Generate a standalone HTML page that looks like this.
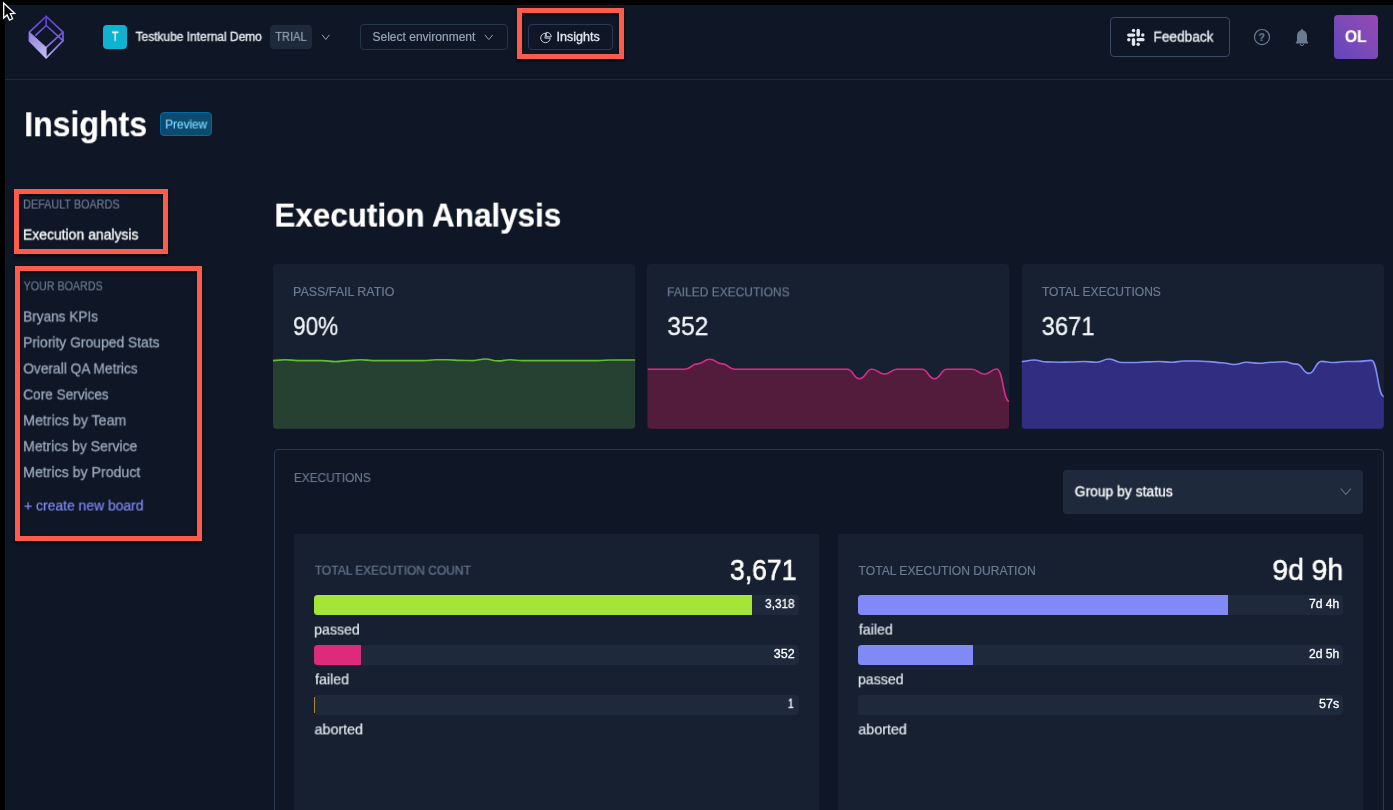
<!DOCTYPE html>
<html lang="en"><head><meta charset="utf-8"><title>Insights - Execution Analysis</title>
<style>
html,body{margin:0;padding:0;background:#000;}
body{width:1393px;height:810px;overflow:hidden;font-family:"Liberation Sans",sans-serif;}
#app{position:absolute;left:0;top:0;width:1393px;height:810px;background:#000;overflow:hidden;}
.b{position:absolute;box-sizing:border-box;}
.t{position:absolute;display:block;white-space:nowrap;line-height:1;transform-origin:0 50%;will-change:transform;-webkit-text-stroke:0.2px;}
.red{position:absolute;box-sizing:border-box;border:5.3px solid #fd5b4b;box-shadow:0 1.5px 2.5px rgba(0,0,0,.75), inset 0 1.5px 2.5px rgba(0,0,0,.6);}
svg{position:absolute;left:0;top:0;overflow:visible;}
</style></head>
<body>
<div id="app">
<div class="b" style="left:5.00px;top:4.70px;width:1388.00px;height:806.00px;background:#0f1625;border-radius:0px;"></div>
<div class="b" style="left:5.00px;top:78.60px;width:1388.00px;height:1.00px;background:#1e293b;border-radius:0px;"></div>
<div class="b" style="left:103.00px;top:25.00px;width:24.20px;height:24.00px;background:#0db3d1;border-radius:4px;"></div>
<div class="b" style="left:269.70px;top:25.00px;width:42.20px;height:24.00px;background:#1e293b;border-radius:4px;"></div>
<div class="b" style="left:360.20px;top:24.00px;width:147.50px;height:26.20px;background:transparent;border-radius:4px;border:1px solid #273549;"></div>
<div class="b" style="left:527.60px;top:24.00px;width:85.40px;height:26.20px;background:transparent;border-radius:4px;border:1px solid #2b3a50;"></div>
<div class="b" style="left:1110.00px;top:17.00px;width:120.00px;height:40.00px;background:transparent;border-radius:4px;border:1px solid #3b4a60;"></div>
<div class="b" style="left:1333.70px;top:14.90px;width:44.30px;height:44.30px;background:linear-gradient(45deg,#5f47be 0%,#7d4ab8 50%,#9648b4 100%);border-radius:4px;"></div>
<div class="b" style="left:160.00px;top:112.00px;width:52.10px;height:24.00px;background:#0c4a6e;border-radius:4px;border:1px solid #0369a1;"></div>
<div class="b" style="left:272.90px;top:264.00px;width:362.50px;height:164.70px;background:#172030;border-radius:4px;"></div>
<div class="b" style="left:647.40px;top:264.00px;width:361.90px;height:164.70px;background:#172030;border-radius:4px;"></div>
<div class="b" style="left:1021.60px;top:264.00px;width:362.30px;height:164.70px;background:#172030;border-radius:4px;"></div>
<div class="b" style="left:273.60px;top:448.90px;width:1110.20px;height:400.00px;background:transparent;border-radius:4px;border:1px solid #2a3a50;"></div>
<div class="b" style="left:1063.00px;top:469.70px;width:300.00px;height:44.00px;background:#1e293b;border-radius:4px;"></div>
<div class="b" style="left:294.20px;top:533.60px;width:524.40px;height:300.00px;background:#172030;border-radius:1px;"></div>
<div class="b" style="left:838.40px;top:533.60px;width:524.80px;height:300.00px;background:#172030;border-radius:1px;"></div>
<div class="b" style="left:314.00px;top:595.10px;width:484.60px;height:19.80px;background:#1e293b;border-radius:3.5px;"></div>
<div class="b" style="left:858.10px;top:595.10px;width:484.70px;height:19.80px;background:#1e293b;border-radius:3.5px;"></div>
<div class="b" style="left:314.00px;top:645.00px;width:484.60px;height:19.80px;background:#1e293b;border-radius:3.5px;"></div>
<div class="b" style="left:858.10px;top:645.00px;width:484.70px;height:19.80px;background:#1e293b;border-radius:3.5px;"></div>
<div class="b" style="left:314.00px;top:694.90px;width:484.60px;height:19.80px;background:#1e293b;border-radius:3.5px;"></div>
<div class="b" style="left:858.10px;top:694.90px;width:484.70px;height:19.80px;background:#1e293b;border-radius:3.5px;"></div>
<div class="b" style="left:314.00px;top:595.10px;width:438.10px;height:19.80px;background:#a3e635;border-radius:0px;border-radius:3.5px 0 0 3.5px;"></div>
<div class="b" style="left:314.00px;top:645.00px;width:46.70px;height:19.80px;background:#de2a7b;border-radius:0px;border-radius:3.5px 0 0 3.5px;"></div>
<div class="b" style="left:314.00px;top:696.50px;width:1.10px;height:16.60px;background:#a8892c;border-radius:0px;"></div>
<div class="b" style="left:858.10px;top:595.10px;width:370.30px;height:19.80px;background:#8189f6;border-radius:0px;border-radius:3.5px 0 0 3.5px;"></div>
<div class="b" style="left:858.10px;top:645.00px;width:114.60px;height:19.80px;background:#8189f6;border-radius:0px;border-radius:3.5px 0 0 3.5px;"></div>
<svg width="1393" height="810" viewBox="0 0 1393 810">
<defs><linearGradient id="lg" gradientUnits="userSpaceOnUse" x1="46" y1="16" x2="46" y2="58"><stop offset="0" stop-color="#5a3dd6"/><stop offset="0.55" stop-color="#7b62dc"/><stop offset="1" stop-color="#b9aeea"/></linearGradient><linearGradient id="lf" gradientUnits="userSpaceOnUse" x1="30" y1="32" x2="44" y2="58"><stop offset="0" stop-color="#8f7fdb"/><stop offset="1" stop-color="#c5bdec"/></linearGradient></defs>
<clipPath id="c1"><rect x="272.90" y="264.00" width="362.50" height="164.70" rx="4" ry="4"/></clipPath>
<g clip-path="url(#c1)"><path d="M272.90,360.60C279.15,360.60 279.15,359.70 285.40,359.70C291.65,359.70 291.65,360.60 297.90,360.60C304.15,360.60 304.15,360.60 310.40,360.60C316.65,360.60 316.65,360.60 322.90,360.60C329.15,360.60 329.15,361.60 335.40,361.60C341.65,361.60 341.65,360.60 347.90,360.60C354.15,360.60 354.15,359.70 360.40,359.70C366.65,359.70 366.65,360.60 372.90,360.60C379.15,360.60 379.15,360.60 385.40,360.60C391.65,360.60 391.65,360.60 397.90,360.60C404.15,360.60 404.15,360.60 410.40,360.60C416.65,360.60 416.65,360.60 422.90,360.60C429.15,360.60 429.15,359.80 435.40,359.80C441.65,359.80 441.65,359.80 447.90,359.80C454.15,359.80 454.15,360.40 460.40,360.40C466.65,360.40 466.65,360.60 472.90,360.60C479.15,360.60 479.15,359.00 485.40,359.00C491.65,359.00 491.65,360.90 497.90,360.90C504.15,360.90 504.15,359.80 510.40,359.80C516.65,359.80 516.65,360.60 522.90,360.60C529.15,360.60 529.15,360.60 535.40,360.60C541.65,360.60 541.65,360.60 547.90,360.60C554.15,360.60 554.15,360.60 560.40,360.60C566.65,360.60 566.65,360.60 572.90,360.60C579.15,360.60 579.15,360.60 585.40,360.60C591.65,360.60 591.65,360.60 597.90,360.60C604.15,360.60 604.15,360.00 610.40,360.00C616.65,360.00 616.65,360.00 622.90,360.00C629.15,360.00 629.15,360.00 635.40,360.00L635.40,430.70L272.90,430.70Z" fill="#264031"/><path d="M272.90,360.60C279.15,360.60 279.15,359.70 285.40,359.70C291.65,359.70 291.65,360.60 297.90,360.60C304.15,360.60 304.15,360.60 310.40,360.60C316.65,360.60 316.65,360.60 322.90,360.60C329.15,360.60 329.15,361.60 335.40,361.60C341.65,361.60 341.65,360.60 347.90,360.60C354.15,360.60 354.15,359.70 360.40,359.70C366.65,359.70 366.65,360.60 372.90,360.60C379.15,360.60 379.15,360.60 385.40,360.60C391.65,360.60 391.65,360.60 397.90,360.60C404.15,360.60 404.15,360.60 410.40,360.60C416.65,360.60 416.65,360.60 422.90,360.60C429.15,360.60 429.15,359.80 435.40,359.80C441.65,359.80 441.65,359.80 447.90,359.80C454.15,359.80 454.15,360.40 460.40,360.40C466.65,360.40 466.65,360.60 472.90,360.60C479.15,360.60 479.15,359.00 485.40,359.00C491.65,359.00 491.65,360.90 497.90,360.90C504.15,360.90 504.15,359.80 510.40,359.80C516.65,359.80 516.65,360.60 522.90,360.60C529.15,360.60 529.15,360.60 535.40,360.60C541.65,360.60 541.65,360.60 547.90,360.60C554.15,360.60 554.15,360.60 560.40,360.60C566.65,360.60 566.65,360.60 572.90,360.60C579.15,360.60 579.15,360.60 585.40,360.60C591.65,360.60 591.65,360.60 597.90,360.60C604.15,360.60 604.15,360.00 610.40,360.00C616.65,360.00 616.65,360.00 622.90,360.00C629.15,360.00 629.15,360.00 635.40,360.00" fill="none" stroke="#62ba35" stroke-width="1.6"/></g>
<clipPath id="c2"><rect x="647.40" y="264.00" width="361.90" height="164.70" rx="4" ry="4"/></clipPath>
<g clip-path="url(#c2)"><path d="M647.40,369.20C653.64,369.20 653.64,369.20 659.88,369.20C666.12,369.20 666.12,369.20 672.36,369.20C678.60,369.20 678.60,369.20 684.84,369.20C691.08,369.20 691.08,363.90 697.32,363.90C703.56,363.90 703.56,359.30 709.80,359.30C716.04,359.30 716.04,363.90 722.28,363.90C728.52,363.90 728.52,369.20 734.76,369.20C740.99,369.20 740.99,369.20 747.23,369.20C753.47,369.20 753.47,369.20 759.71,369.20C765.95,369.20 765.95,369.20 772.19,369.20C778.43,369.20 778.43,369.20 784.67,369.20C790.91,369.20 790.91,369.20 797.15,369.20C803.39,369.20 803.39,369.20 809.63,369.20C815.87,369.20 815.87,369.20 822.11,369.20C828.35,369.20 828.35,369.20 834.59,369.20C840.83,369.20 840.83,369.20 847.07,369.20C853.31,369.20 853.31,378.70 859.55,378.70C865.79,378.70 865.79,369.20 872.03,369.20C878.27,369.20 878.27,374.00 884.51,374.00C890.75,374.00 890.75,369.20 896.99,369.20C903.23,369.20 903.23,369.20 909.47,369.20C915.71,369.20 915.71,369.20 921.94,369.20C928.18,369.20 928.18,378.70 934.42,378.70C940.66,378.70 940.66,369.20 946.90,369.20C953.14,369.20 953.14,369.20 959.38,369.20C965.62,369.20 965.62,369.20 971.86,369.20C978.10,369.20 978.10,374.20 984.34,374.20C990.58,374.20 990.58,369.00 996.82,369.00C1003.06,369.00 1003.06,401.50 1009.30,401.50L1009.30,430.70L647.40,430.70Z" fill="#531b3c"/><path d="M647.40,369.20C653.64,369.20 653.64,369.20 659.88,369.20C666.12,369.20 666.12,369.20 672.36,369.20C678.60,369.20 678.60,369.20 684.84,369.20C691.08,369.20 691.08,363.90 697.32,363.90C703.56,363.90 703.56,359.30 709.80,359.30C716.04,359.30 716.04,363.90 722.28,363.90C728.52,363.90 728.52,369.20 734.76,369.20C740.99,369.20 740.99,369.20 747.23,369.20C753.47,369.20 753.47,369.20 759.71,369.20C765.95,369.20 765.95,369.20 772.19,369.20C778.43,369.20 778.43,369.20 784.67,369.20C790.91,369.20 790.91,369.20 797.15,369.20C803.39,369.20 803.39,369.20 809.63,369.20C815.87,369.20 815.87,369.20 822.11,369.20C828.35,369.20 828.35,369.20 834.59,369.20C840.83,369.20 840.83,369.20 847.07,369.20C853.31,369.20 853.31,378.70 859.55,378.70C865.79,378.70 865.79,369.20 872.03,369.20C878.27,369.20 878.27,374.00 884.51,374.00C890.75,374.00 890.75,369.20 896.99,369.20C903.23,369.20 903.23,369.20 909.47,369.20C915.71,369.20 915.71,369.20 921.94,369.20C928.18,369.20 928.18,378.70 934.42,378.70C940.66,378.70 940.66,369.20 946.90,369.20C953.14,369.20 953.14,369.20 959.38,369.20C965.62,369.20 965.62,369.20 971.86,369.20C978.10,369.20 978.10,374.20 984.34,374.20C990.58,374.20 990.58,369.00 996.82,369.00C1003.06,369.00 1003.06,401.50 1009.30,401.50" fill="none" stroke="#d92c8a" stroke-width="1.6"/></g>
<clipPath id="c3"><rect x="1021.60" y="264.00" width="362.30" height="164.70" rx="4" ry="4"/></clipPath>
<g clip-path="url(#c3)"><path d="M1021.60,361.60C1027.85,361.60 1027.85,360.00 1034.09,360.00C1040.34,360.00 1040.34,361.90 1046.59,361.90C1052.83,361.90 1052.83,362.20 1059.08,362.20C1065.33,362.20 1065.33,362.05 1071.57,362.05C1077.82,362.05 1077.82,361.50 1084.07,361.50C1090.31,361.50 1090.31,362.20 1096.56,362.20C1102.81,362.20 1102.81,359.05 1109.05,359.05C1115.30,359.05 1115.30,362.50 1121.54,362.50C1127.79,362.50 1127.79,362.50 1134.04,362.50C1140.28,362.50 1140.28,361.90 1146.53,361.90C1152.78,361.90 1152.78,361.50 1159.02,361.50C1165.27,361.50 1165.27,362.20 1171.52,362.20C1177.76,362.20 1177.76,361.00 1184.01,361.00C1190.26,361.00 1190.26,361.00 1196.50,361.00C1202.75,361.00 1202.75,361.60 1209.00,361.60C1215.24,361.60 1215.24,362.70 1221.49,362.70C1227.74,362.70 1227.74,364.50 1233.98,364.50C1240.23,364.50 1240.23,362.30 1246.48,362.30C1252.72,362.30 1252.72,363.30 1258.97,363.30C1265.22,363.30 1265.22,362.20 1271.46,362.20C1277.71,362.20 1277.71,361.80 1283.96,361.80C1290.20,361.80 1290.20,364.10 1296.45,364.10C1302.69,364.10 1302.69,373.40 1308.94,373.40C1315.19,373.40 1315.19,361.40 1321.43,361.40C1327.68,361.40 1327.68,362.50 1333.93,362.50C1340.17,362.50 1340.17,361.50 1346.42,361.50C1352.67,361.50 1352.67,361.40 1358.91,361.40C1365.16,361.40 1365.16,360.40 1371.41,360.40C1377.65,360.40 1377.65,396.50 1383.90,396.50L1383.90,430.70L1021.60,430.70Z" fill="#312e81"/><path d="M1021.60,361.60C1027.85,361.60 1027.85,360.00 1034.09,360.00C1040.34,360.00 1040.34,361.90 1046.59,361.90C1052.83,361.90 1052.83,362.20 1059.08,362.20C1065.33,362.20 1065.33,362.05 1071.57,362.05C1077.82,362.05 1077.82,361.50 1084.07,361.50C1090.31,361.50 1090.31,362.20 1096.56,362.20C1102.81,362.20 1102.81,359.05 1109.05,359.05C1115.30,359.05 1115.30,362.50 1121.54,362.50C1127.79,362.50 1127.79,362.50 1134.04,362.50C1140.28,362.50 1140.28,361.90 1146.53,361.90C1152.78,361.90 1152.78,361.50 1159.02,361.50C1165.27,361.50 1165.27,362.20 1171.52,362.20C1177.76,362.20 1177.76,361.00 1184.01,361.00C1190.26,361.00 1190.26,361.00 1196.50,361.00C1202.75,361.00 1202.75,361.60 1209.00,361.60C1215.24,361.60 1215.24,362.70 1221.49,362.70C1227.74,362.70 1227.74,364.50 1233.98,364.50C1240.23,364.50 1240.23,362.30 1246.48,362.30C1252.72,362.30 1252.72,363.30 1258.97,363.30C1265.22,363.30 1265.22,362.20 1271.46,362.20C1277.71,362.20 1277.71,361.80 1283.96,361.80C1290.20,361.80 1290.20,364.10 1296.45,364.10C1302.69,364.10 1302.69,373.40 1308.94,373.40C1315.19,373.40 1315.19,361.40 1321.43,361.40C1327.68,361.40 1327.68,362.50 1333.93,362.50C1340.17,362.50 1340.17,361.50 1346.42,361.50C1352.67,361.50 1352.67,361.40 1358.91,361.40C1365.16,361.40 1365.16,360.40 1371.41,360.40C1377.65,360.40 1377.65,396.50 1383.90,396.50" fill="none" stroke="#818cf8" stroke-width="1.6"/></g>
<g fill="none" stroke="url(#lg)" stroke-width="1.65" stroke-linejoin="round" stroke-linecap="round"><path d="M46.2,16.3L63,32.1L63,40.6L46.2,57.8L29.4,41L29.4,32.1Z"/><path d="M46.2,16.3L46.2,25.5"/><path d="M46.2,25.5L63,40.6"/><path d="M46.2,25.5L35.8,35.2"/><path d="M63,32.1L46.2,47.4"/></g><path d="M29.4,32.1L46.2,47.4L46.2,57.8L29.4,41Z" fill="url(#lf)" stroke="url(#lf)" stroke-width="0.8" stroke-linejoin="round"/>
<path d="M322.40,35.10L325.80,39.50L329.20,35.10" fill="none" stroke="#94a3b8" stroke-width="1.00" stroke-linecap="round" stroke-linejoin="round"/>
<path d="M485.10,35.20L488.80,39.60L492.50,35.20" fill="none" stroke="#94a3b8" stroke-width="1.00" stroke-linecap="round" stroke-linejoin="round"/>
<path d="M1341.00,488.80L1345.80,494.40L1350.60,488.80" fill="none" stroke="#5d6c83" stroke-width="1.10" stroke-linecap="round" stroke-linejoin="round"/>
<g fill="none" stroke="#c4cddb" stroke-width="1.0" stroke-linecap="round" stroke-linejoin="round"><path d="M545.3,33.2A4.75,4.75 0 1 0 550.2,38.1L545.3,38.1Z"/><path d="M546.7,32.3A4.4,4.4 0 0 1 551.3,36.8L546.7,36.8Z"/></g>
<g fill="#e2e8f0"><rect x="1136.50" y="28.70" width="3.40" height="8.00" rx="1.70" ry="1.70"/><rect x="1127.10" y="33.40" width="8.20" height="3.30" rx="1.65" ry="1.65"/><rect x="1136.50" y="38.00" width="8.10" height="3.30" rx="1.65" ry="1.65"/><rect x="1131.80" y="38.00" width="3.40" height="8.00" rx="1.70" ry="1.70"/><circle cx="1133.50" cy="30.50" r="1.7"/><circle cx="1142.80" cy="35.00" r="1.7"/><circle cx="1128.80" cy="39.70" r="1.7"/><circle cx="1138.20" cy="44.30" r="1.7"/></g>
<circle cx="1262" cy="37.05" r="7.55" fill="none" stroke="#6b7b92" stroke-width="1.2"/>
<path d="M1302,29.2c0.7,0 1.1,0.5 1.1,1.1c2.5,0.8 3.9,2.9 3.9,5.6v4.4c0,0.9 0.4,1.6 1.2,2.2v0.9h-12.4v-0.9c0.8,-0.6 1.2,-1.3 1.2,-2.2v-4.4c0,-2.7 1.4,-4.8 3.9,-5.6c0,-0.6 0.4,-1.1 1.1,-1.1z" fill="#6b7b92"/><path d="M1300.3,43.9a1.7,1.7 0 0 0 3.4,0" fill="none" stroke="#6b7b92" stroke-width="1"/>
<path d="M3.7,3.0L3.7,18.0L7.1,14.9L9.5,20.1L12.6,18.7L10.3,13.7L14.7,13.5Z" fill="#000" stroke="#fff" stroke-width="1.3" stroke-linejoin="miter"/>
</svg>
<div class="red" style="left:516.9px;top:8.0px;width:107.3px;height:51.4px;"></div>
<div class="red" style="left:13.9px;top:189.2px;width:154.4px;height:64.9px;"></div>
<div class="red" style="left:14.9px;top:265.9px;width:187.4px;height:275.1px;"></div>
<span class="t" style="left:111px;top:30px;font-size:12.5px;font-weight:normal;color:#fff;transform:translate(0.89px,0.72px) scaleX(0.8451);-webkit-text-stroke:0.3px;">T</span>
<span class="t" style="left:135px;top:30px;font-size:12px;font-weight:normal;color:#f1f5f9;transform:translate(0.55px,0.84px) scaleX(0.9968);-webkit-text-stroke:0.3px;">Testkube Internal Demo</span>
<span class="t" style="left:275px;top:30px;font-size:12px;font-weight:normal;color:#94a3b8;transform:translate(0.17px,0.84px) scaleX(0.9286);">TRIAL</span>
<span class="t" style="left:372px;top:30px;font-size:12px;font-weight:normal;color:#94a3b8;transform:translate(0.50px,0.84px) scaleX(1.0016);">Select environment</span>
<span class="t" style="left:556px;top:30px;font-size:12px;font-weight:normal;color:#e2e8f0;transform:translate(0.55px,0.84px) scaleX(1.0463);-webkit-text-stroke:0.3px;">Insights</span>
<span class="t" style="left:1153px;top:29px;font-size:14.6px;font-weight:normal;color:#f1f5f9;transform:translate(0.33px,0.64px) scaleX(0.9382);-webkit-text-stroke:0.3px;">Feedback</span>
<span class="t" style="left:1344px;top:28px;font-size:17.3px;font-weight:bold;color:#fff;transform:translate(0.91px,0.16px) scaleX(0.9013);">OL</span>
<span class="t" style="left:1258px;top:32px;font-size:11.5px;font-weight:bold;color:#6b7b92;transform:translate(0.54px,0.12px) scaleX(0.9153);">?</span>
<span class="t" style="left:24px;top:106px;font-size:35px;font-weight:bold;color:#fff;transform:translate(0.20px,0.27px) scaleX(0.9160);">Insights</span>
<span class="t" style="left:165px;top:118px;font-size:12px;font-weight:normal;color:#7dd3fc;transform:translate(0.17px,0.54px) scaleX(0.9817);">Preview</span>
<span class="t" style="left:23px;top:198px;font-size:12px;font-weight:normal;color:#6a7a92;transform:translate(0.14px,0.54px) scaleX(0.9018);">DEFAULT BOARDS</span>
<span class="t" style="left:22px;top:227px;font-size:14.6px;font-weight:normal;color:#fff;transform:translate(0.91px,0.54px) scaleX(0.9562);-webkit-text-stroke:0.3px;">Execution analysis</span>
<span class="t" style="left:23px;top:280px;font-size:12px;font-weight:normal;color:#6a7a92;transform:translate(0.58px,0.34px) scaleX(0.8916);">YOUR BOARDS</span>
<span class="t" style="left:23px;top:309px;font-size:14.6px;font-weight:normal;color:#9aa8bc;transform:translate(0.14px,0.44px) scaleX(0.9323);-webkit-text-stroke:0.3px;">Bryans KPIs</span>
<span class="t" style="left:23px;top:335px;font-size:14.6px;font-weight:normal;color:#9aa8bc;transform:translate(0.12px,0.34px) scaleX(0.9505);-webkit-text-stroke:0.3px;">Priority Grouped Stats</span>
<span class="t" style="left:23px;top:361px;font-size:14.6px;font-weight:normal;color:#9aa8bc;transform:translate(0.26px,0.44px) scaleX(0.9410);-webkit-text-stroke:0.3px;">Overall QA Metrics</span>
<span class="t" style="left:23px;top:387px;font-size:14.6px;font-weight:normal;color:#9aa8bc;transform:translate(0.26px,0.44px) scaleX(0.9321);-webkit-text-stroke:0.3px;">Core Services</span>
<span class="t" style="left:23px;top:413px;font-size:14.6px;font-weight:normal;color:#9aa8bc;transform:translate(0.09px,0.34px) scaleX(0.9743);-webkit-text-stroke:0.3px;">Metrics by Team</span>
<span class="t" style="left:23px;top:439px;font-size:14.6px;font-weight:normal;color:#9aa8bc;transform:translate(0.11px,0.24px) scaleX(0.9581);-webkit-text-stroke:0.3px;">Metrics by Service</span>
<span class="t" style="left:23px;top:465px;font-size:14.6px;font-weight:normal;color:#9aa8bc;transform:translate(0.09px,0.14px) scaleX(0.9699);-webkit-text-stroke:0.3px;">Metrics by Product</span>
<span class="t" style="left:24px;top:498px;font-size:14px;font-weight:normal;color:#818cf8;transform:translate(0.05px,0.55px) scaleX(0.9933);">+ create new board</span>
<span class="t" style="left:274px;top:199px;font-size:32.7px;font-weight:bold;color:#fff;transform:translate(0.34px,0.62px) scaleX(0.9613);">Execution Analysis</span>
<span class="t" style="left:293px;top:286px;font-size:12px;font-weight:normal;color:#6a7a92;transform:translate(0.01px,0.34px) scaleX(1.0376);">PASS/FAIL RATIO</span>
<span class="t" style="left:293px;top:314px;font-size:25px;font-weight:normal;color:#f1f5f9;transform:translate(0.04px,0.04px) scaleX(0.9019);-webkit-text-stroke:0.3px;">90%</span>
<span class="t" style="left:667px;top:286px;font-size:12px;font-weight:normal;color:#6a7a92;transform:translate(0.05px,0.34px) scaleX(0.9980);">FAILED EXECUTIONS</span>
<span class="t" style="left:667px;top:314px;font-size:25px;font-weight:normal;color:#f1f5f9;transform:translate(0.23px,0.04px) scaleX(0.9870);-webkit-text-stroke:0.3px;">352</span>
<span class="t" style="left:1041px;top:286px;font-size:12px;font-weight:normal;color:#6a7a92;transform:translate(0.95px,0.34px) scaleX(1.0038);">TOTAL EXECUTIONS</span>
<span class="t" style="left:1041px;top:314px;font-size:25px;font-weight:normal;color:#f1f5f9;transform:translate(0.56px,0.04px) scaleX(0.9513);-webkit-text-stroke:0.3px;">3671</span>
<span class="t" style="left:293px;top:472px;font-size:12px;font-weight:normal;color:#6a7a92;transform:translate(0.86px,0.04px) scaleX(0.9862);">EXECUTIONS</span>
<span class="t" style="left:1074px;top:484px;font-size:14px;font-weight:normal;color:#fff;transform:translate(0.65px,0.35px) scaleX(0.9935);-webkit-text-stroke:0.3px;">Group by status</span>
<span class="t" style="left:314px;top:564px;font-size:12px;font-weight:normal;color:#6a7a92;transform:translate(0.75px,0.64px) scaleX(0.9973);">TOTAL EXECUTION COUNT</span>
<span class="t" style="left:729px;top:554px;font-size:29.5px;font-weight:normal;color:#fff;transform:translate(0.97px,0.93px) scaleX(0.9009);-webkit-text-stroke:0.6px;">3,671</span>
<span class="t" style="left:765px;top:597px;font-size:12px;font-weight:normal;color:#fff;transform:translate(0.16px,0.94px) scaleX(0.9792);-webkit-text-stroke:0.3px;">3,318</span>
<span class="t" style="left:314px;top:622px;font-size:14.5px;font-weight:normal;color:#e2e8f0;transform:translate(0.12px,0.53px) scaleX(0.9748);">passed</span>
<span class="t" style="left:773px;top:647px;font-size:12px;font-weight:normal;color:#fff;transform:translate(0.83px,0.74px) scaleX(1.0422);-webkit-text-stroke:0.3px;">352</span>
<span class="t" style="left:315px;top:672px;font-size:14.5px;font-weight:normal;color:#e2e8f0;transform:translate(0.00px,0.33px) scaleX(0.9838);">failed</span>
<span class="t" style="left:787px;top:697px;font-size:12px;font-weight:normal;color:#fff;transform:translate(0.80px,0.74px) scaleX(0.8846);-webkit-text-stroke:0.3px;">1</span>
<span class="t" style="left:314px;top:722px;font-size:14.5px;font-weight:normal;color:#e2e8f0;transform:translate(0.55px,0.43px) scaleX(0.9852);">aborted</span>
<span class="t" style="left:858px;top:564px;font-size:12px;font-weight:normal;color:#6a7a92;transform:translate(0.55px,0.64px) scaleX(1.0086);">TOTAL EXECUTION DURATION</span>
<span class="t" style="left:1272px;top:554px;font-size:29.5px;font-weight:normal;color:#fff;transform:translate(0.38px,0.93px) scaleX(0.9579);-webkit-text-stroke:0.6px;">9d 9h</span>
<span class="t" style="left:1308px;top:597px;font-size:12px;font-weight:normal;color:#fff;transform:translate(0.99px,0.84px) scaleX(1.0085);-webkit-text-stroke:0.3px;">7d 4h</span>
<span class="t" style="left:858px;top:622px;font-size:14.5px;font-weight:normal;color:#e2e8f0;transform:translate(0.80px,0.53px) scaleX(0.9838);">failed</span>
<span class="t" style="left:1308px;top:647px;font-size:12px;font-weight:normal;color:#fff;transform:translate(0.99px,0.64px) scaleX(1.0085);-webkit-text-stroke:0.3px;">2d 5h</span>
<span class="t" style="left:857px;top:672px;font-size:14.5px;font-weight:normal;color:#e2e8f0;transform:translate(0.92px,0.33px) scaleX(0.9748);">passed</span>
<span class="t" style="left:1319px;top:697px;font-size:12px;font-weight:normal;color:#fff;transform:translate(0.03px,0.64px) scaleX(1.0380);-webkit-text-stroke:0.3px;">57s</span>
<span class="t" style="left:858px;top:722px;font-size:14.5px;font-weight:normal;color:#e2e8f0;transform:translate(0.35px,0.43px) scaleX(0.9852);">aborted</span>
</div>
</body></html>
